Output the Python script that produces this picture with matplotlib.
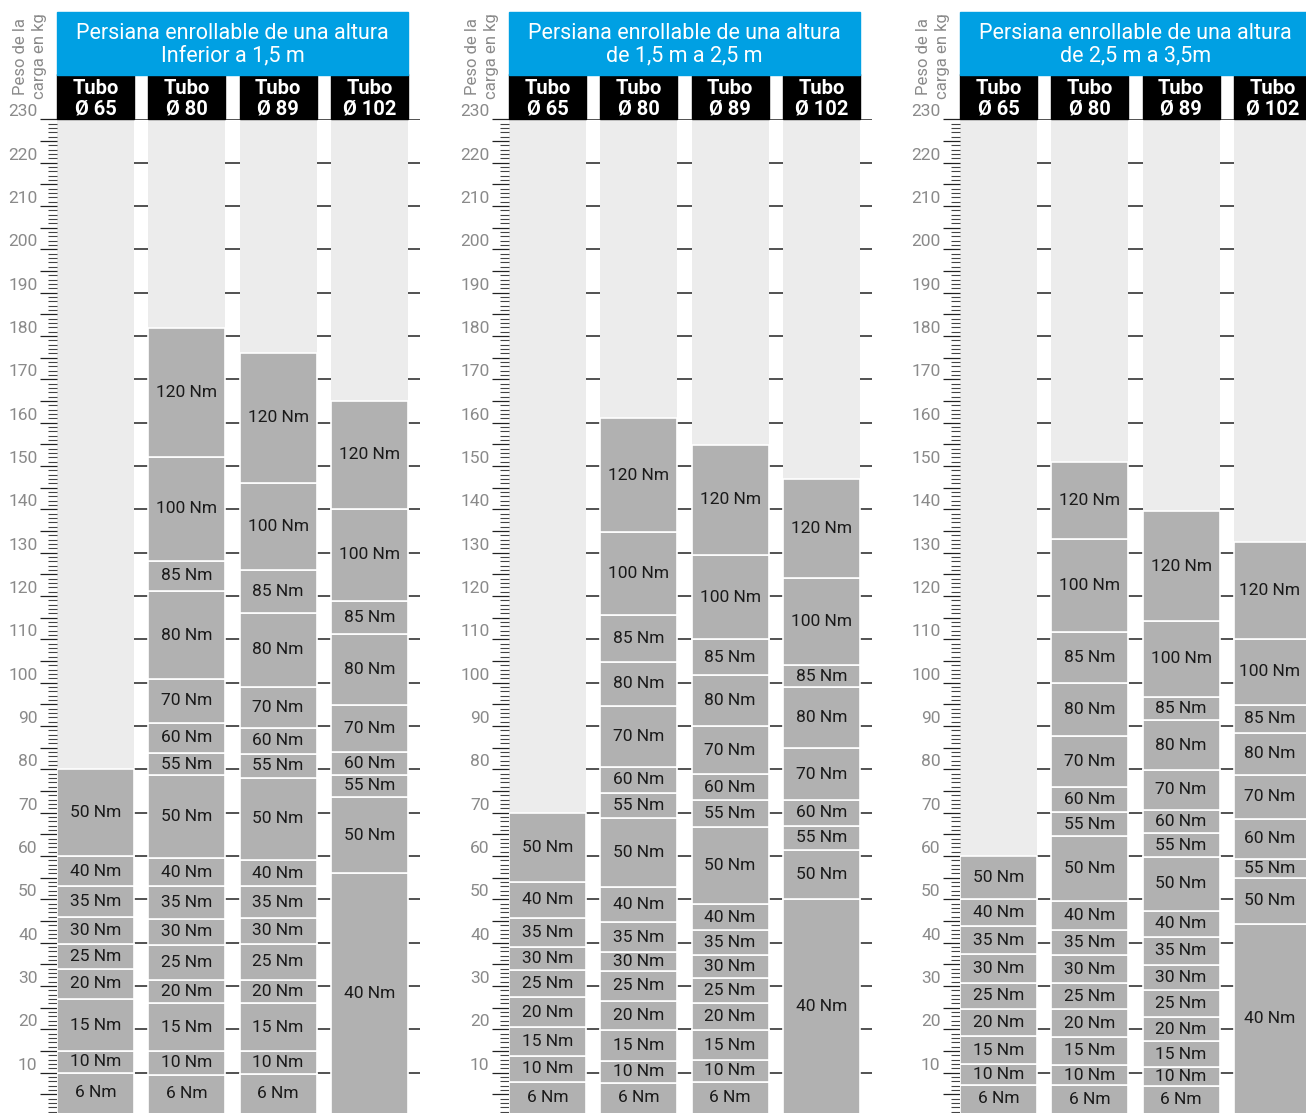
import matplotlib
matplotlib.use("Agg")
import matplotlib.pyplot as plt
from matplotlib.patches import Rectangle
from matplotlib.ticker import MultipleLocator
import numpy as np

plt.rcParams['font.family'] = ['Roboto', 'DejaVu Sans']

# --- data -------------------------------------------------------------
titles = ["Persiana enrollable de una altura\nInferior a 1,5 m",
          "Persiana enrollable de una altura\nde 1,5 m a 2,5 m",
          "Persiana enrollable de una altura\nde 2,5 m a 3,5m"]
tubes = ["Tubo\nØ 65", "Tubo\nØ 80", "Tubo\nØ 89", "Tubo\nØ 102"]

torque_small = [6, 10, 15, 20, 25, 30, 35, 40, 50]
torque_mid = [6, 10, 15, 20, 25, 30, 35, 40, 50, 55, 60, 70, 80, 85, 100, 120]
torque_big = [40, 50, 55, 60, 70, 80, 85, 100, 120]
torques = [torque_small, torque_mid, torque_mid, torque_big]

# upper limit (kg) of each motor segment, per panel and tube
p1_t65 = [10, 15, 27, 34, 39.7, 46, 53, 60, 80]
p1_t80 = [9.5, 15, 26, 31.5, 39.5, 45.5, 53, 59.5, 78.6, 83.8, 90.8, 100.8, 121.2, 128.2, 152, 181.8]
p1_t89 = [9.6, 15, 26, 31.5, 39.7, 45.7, 53, 59.1, 78, 83.6, 89.6, 99.1, 116, 126, 146.2, 176]
p1_t102 = [56, 73.7, 78.7, 83.9, 94.9, 111.2, 118.8, 140.2, 165]

p2_t65 = [7.9, 13.9, 20.5, 27.5, 33.8, 39, 45.8, 54.1, 70]
p2_t80 = [7.7, 12.7, 19.8, 26.6, 33.5, 37.8, 44.8, 52.8, 68.7, 74.6, 80.6, 94.7, 104.8, 115.6, 134.8, 161]
p2_t89 = [7.9, 12.9, 19.8, 26.1, 31.9, 37.1, 42.9, 48.9, 66.8, 72.9, 78.9, 90, 101.8, 110, 129.5, 154.9]
p2_t102 = [50, 61.4, 67, 72.9, 84.9, 98.9, 104.1, 124.1, 146.9]

p3_t65 = [7.2, 11.9, 18.5, 24.7, 30.8, 37.4, 43.8, 50, 60]
p3_t80 = [7.1, 11.8, 18.3, 24.6, 30.6, 37.1, 42.9, 49.6, 64.6, 70.1, 75.9, 87.8, 99.9, 111.8, 133.2, 150.9]
p3_t89 = [6.9, 11.2, 17.2, 22.9, 29.1, 34.9, 41.4, 47.3, 59.8, 65.2, 70.7, 79.8, 91.4, 96.8, 114.2, 139.6]
p3_t102 = [44.3, 55, 59.3, 68.6, 78.8, 88.5, 94.8, 110.2, 132.4]

panels = [[p1_t65, p1_t80, p1_t89, p1_t102],
          [p2_t65, p2_t80, p2_t89, p2_t102],
          [p3_t65, p3_t80, p3_t89, p3_t102]]

ymax = 230

# --- style ------------------------------------------------------------
blue = "#00a0e3"
seg_grey = "#b1b1b1"
bg_grey = "#ececec"
label_grey = "#8a8a8a"

W, H = 1306, 1113
px_per_unit = 91.3          # horizontal slot spacing in pixels
col_w = 77 / px_per_unit
y_bottom_px = 1116          # pixel row of 0 kg
kg_px = 4.333               # pixels per kg
panel_left = [57, 509, 960]
panel_right = [420, 872, 1306]

fig = plt.figure(figsize=(W / 100, H / 100), dpi=100)

top_frac = (H - (y_bottom_px - ymax * kg_px)) / H
ylow = (y_bottom_px - H) / kg_px

for p in range(3):
    l, r = panel_left[p], panel_right[p]
    ax = fig.add_axes([l / W, 0, (r - l) / W, top_frac])
    ax.set_xlim(0, (r - l) / px_per_unit)
    ax.set_ylim(ylow, ymax)
    for s in ax.spines.values():
        s.set_visible(False)
    ax.set_xticks([])

    # 10 kg guide lines (visible in the gaps)
    for v in range(10, ymax + 1, 10):
        ax.axhline(v, color="#222222", lw=1.1, zorder=0)

    x = np.arange(len(tubes))
    ax.bar(x, ymax, width=col_w, align="edge", color=bg_grey, zorder=1)

    for i, tops in enumerate(panels[p]):
        tops = np.array(tops)
        bottoms = np.concatenate([[0], tops[:-1]])
        bars = ax.bar(np.full(len(tops), i), tops - bottoms, bottom=bottoms,
                      width=col_w, align="edge", color=seg_grey,
                      edgecolor="white", linewidth=1.2, zorder=2)
        ax.bar_label(bars, labels=[f"{t} Nm" for t in torques[i]],
                     label_type="center", fontsize=12.5, color="#1a1a1a")

        # black tube header
        ax.add_patch(Rectangle((i, ymax), col_w, 10.4, color="black",
                               clip_on=False, zorder=3))
        ax.text(i + col_w / 2, ymax + 4.8, tubes[i], ha="center", va="center",
                color="white", fontsize=14.5, fontweight="bold", linespacing=1.1,
                zorder=4, clip_on=False)

    # blue title
    ax.add_patch(Rectangle((0, ymax + 10.3), 3 + col_w, 14.5, color=blue,
                           clip_on=False, zorder=3))
    ax.text((3 + col_w) / 2, ymax + 17.3, titles[p], ha="center", va="center",
            color="white", fontsize=15.5, linespacing=1.1, zorder=4, clip_on=False)

    # y axis
    ax.yaxis.set_major_locator(MultipleLocator(5))
    ax.yaxis.set_minor_locator(MultipleLocator(1))
    ticks = list(range(5, ymax + 1, 5))
    ax.set_yticks(ticks)
    ax.set_yticklabels([str(t) if t % 10 == 0 else "" for t in ticks],
                       va="bottom", color=label_grey, fontsize=12.5)
    ax.tick_params(axis="y", which="major", length=12.5, width=0.9,
                   color="#222222", pad=1.5)
    ax.tick_params(axis="y", which="minor", length=6.7, width=0.8,
                   color="#444444")

    ax.text(-27 / px_per_unit, ymax + 14.6, "Peso de la\ncarga en kg",
            rotation=90, ha="center", va="center", color=label_grey,
            fontsize=12, linespacing=1.4, clip_on=False)

fig.savefig("out.png", dpi=100)
